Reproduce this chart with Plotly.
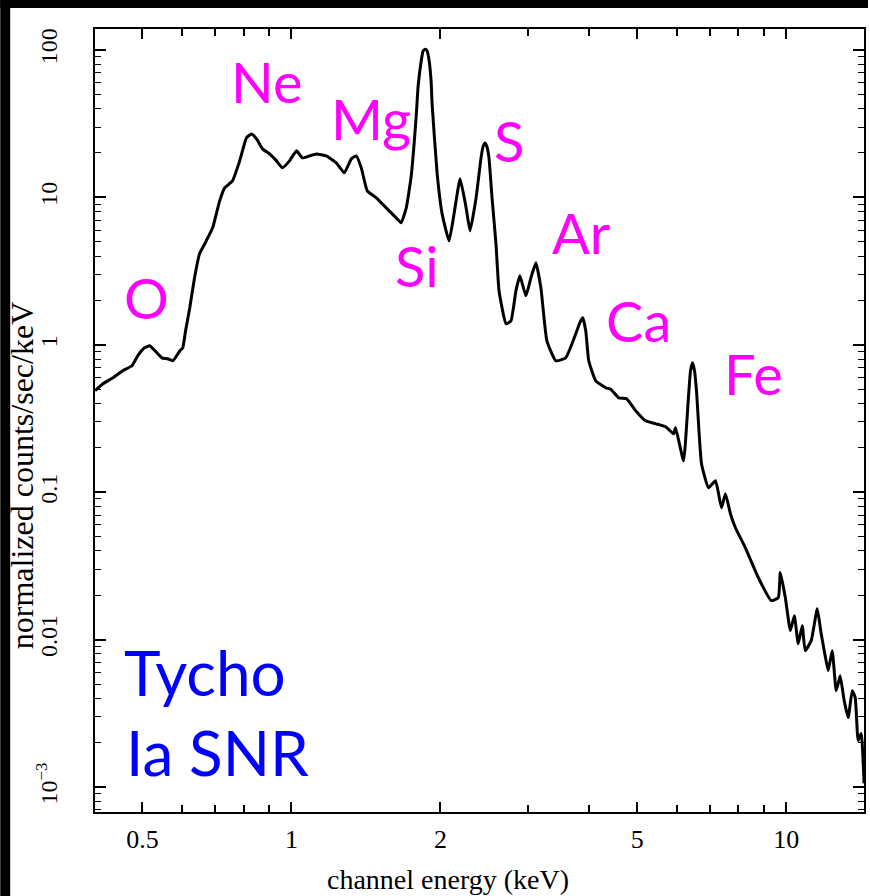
import plotly.graph_objects as go

# ---- data (Tycho SNR) ----
energy_kev = [0.401, 0.416, 0.436, 0.456, 0.476, 0.489, 0.505, 0.517, 0.530, 0.547,
              0.562, 0.576, 0.595, 0.603, 0.611, 0.623, 0.637, 0.652, 0.668, 0.693,
              0.716, 0.733, 0.760, 0.786, 0.811, 0.831, 0.850, 0.874, 0.903, 0.933,
              0.959, 0.991, 1.024, 1.052, 1.087, 1.123, 1.176, 1.232, 1.279, 1.321,
              1.352, 1.384, 1.423, 1.484, 1.554, 1.628, 1.666, 1.706, 1.746, 1.787,
              1.803, 1.829, 1.845, 1.863, 1.880, 1.898, 1.915, 1.924, 1.970, 2.016,
              2.082, 2.131, 2.192, 2.254, 2.296, 2.361, 2.416, 2.438, 2.461, 2.484,
              2.507, 2.543, 2.590, 2.627, 2.714, 2.777, 2.842, 2.895, 2.977, 3.047,
              3.119, 3.192, 3.282, 3.422, 3.584, 3.755, 3.825, 3.879, 3.933, 3.988,
              4.120, 4.316, 4.418, 4.584, 4.758, 4.962, 5.196, 5.445, 5.702, 5.918,
              5.973, 6.199, 6.345, 6.404, 6.464, 6.524, 6.584, 6.739, 6.962, 7.193,
              7.396, 7.534, 7.711, 7.892, 8.266, 8.780, 9.327, 9.636, 9.725, 9.954,
              10.19, 10.38, 10.57, 10.77, 10.92, 11.23, 11.55, 11.76, 11.98, 12.15,
              12.38, 12.61, 12.73, 12.85, 13.09, 13.34, 13.59, 13.78, 13.97, 14.17,
              14.36]
counts = [0.488, 0.544, 0.597, 0.667, 0.721, 0.842, 0.954, 0.985, 0.911, 0.816,
          0.804, 0.779, 0.911, 0.954, 1.244, 1.782, 2.846, 4.140, 4.838, 6.213,
          9.47, 11.60, 12.94, 17.68, 25.32, 26.95, 24.93, 21.32, 19.72, 17.68,
          15.85, 17.68, 20.67, 18.53, 19.11, 19.72, 19.11, 17.13, 14.66, 18.24,
          19.11, 15.85, 11.07, 9.92, 8.49, 7.26, 6.72, 8.49, 13.99, 35.69,
          57.0, 84.22, 98.4, 101.0, 98.4, 84.22, 61.6, 43.04, 14.43, 7.73,
          5.07, 7.73, 13.35, 8.49, 5.93, 9.92, 18.53, 22.0, 23.42, 22.0,
          18.53, 9.92, 4.84, 2.323, 1.388, 1.454, 2.323, 2.937, 2.149, 2.846,
          3.597, 2.434, 1.064, 0.779, 0.816, 1.187, 1.41, 1.524, 1.244, 0.779,
          0.570, 0.511, 0.500, 0.437, 0.430, 0.357, 0.305, 0.291, 0.278, 0.249,
          0.274, 0.1635, 0.451, 0.667, 0.755, 0.667, 0.488, 0.156, 0.1073, 0.1197,
          0.0785, 0.0977, 0.0715, 0.0574, 0.0420, 0.0263, 0.0184, 0.0193, 0.0285, 0.0193,
          0.0115, 0.01455, 0.00939, 0.01244, 0.00842, 0.00985, 0.0162, 0.0110, 0.00779, 0.00616,
          0.00842, 0.00451, 0.00503, 0.00570, 0.00386, 0.00296, 0.00451, 0.00404, 0.00207, 0.00231,
          0.00106]

x_tick_vals = [0.5, 1, 2, 5, 10]
x_tick_text = ["0.5", "1", "2", "5", "10"]
y_tick_vals = [1e-3, 0.01, 0.1, 1, 10, 100]
y_tick_text = ["10<sup>\u22123</sup>", "0.01", "0.1", "1", "10", "100"]

element_labels = ["O", "Ne", "Mg", "Si", "S", "Ar", "Ca", "Fe"]
object_labels = ["Tycho", "Ia SNR"]

# ---- layout geometry (pixels) ----
W, H = 870, 896
L, R, T, B = 95, 866, 29, 812


def px(xp):
    return (xp - L) / (R - L)


def py(yp):
    return (B - yp) / (B - T)


serif = "Liberation Serif"

fig = go.Figure()
fig.add_trace(go.Scatter(x=energy_kev, y=counts, mode="lines",
                         line=dict(color="black", width=3, shape="spline", smoothing=0.4),
                         showlegend=False, hoverinfo="skip"))

fig.update_layout(
    width=W, height=H,
    margin=dict(l=L, r=W - R, t=T, b=H - B),
    paper_bgcolor="white", plot_bgcolor="white",
    showlegend=False,
)

fig.update_xaxes(
    type="log", range=[-0.397, 1.157],
    tickvals=x_tick_vals, ticktext=x_tick_text,
    ticks="inside", ticklen=10, tickwidth=1.5, tickcolor="black",
    minor=dict(ticks="inside", ticklen=7, tickwidth=1.5, tickcolor="black", dtick="D1", showgrid=False),
    showline=True, linecolor="black", linewidth=2, mirror="allticks",
    showgrid=False, zeroline=False,
    tickfont=dict(family=serif, size=26, color="black"),
    ticklabelstandoff=3,
)
fig.update_yaxes(
    type="log", range=[-3.169, 2.142],
    tickvals=y_tick_vals, ticktext=y_tick_text, tickangle=-90,
    ticks="inside", ticklen=11, tickwidth=1.5, tickcolor="black",
    minor=dict(ticks="inside", ticklen=6, tickwidth=1.2, tickcolor="black", dtick="D1", showgrid=False),
    showline=True, linecolor="black", linewidth=2, mirror="allticks",
    showgrid=False, zeroline=False,
    tickfont=dict(family=serif, size=24, color="black"),
    ticklabelstandoff=26,
)

ann = []
# axis titles
ann.append(dict(text="channel energy (keV)", x=px(449), y=py(880), xref="paper", yref="paper",
                showarrow=False, xanchor="center", yanchor="middle",
                font=dict(family=serif, size=28, color="black")))
ann.append(dict(text="normalized counts/sec/keV", x=px(22), y=py(476), xref="paper", yref="paper",
                showarrow=False, xanchor="center", yanchor="middle", textangle=-90,
                font=dict(family=serif, size=32, color="black")))

# element labels (magenta)
elem_pos = [(147, 297), (267, 82), (372, 118), (418, 265), (510, 140), (582, 233), (640, 320), (755, 373)]
for lab, (ex, ey) in zip(element_labels, elem_pos):
    ann.append(dict(text=lab, x=px(ex), y=py(ey), xref="paper", yref="paper",
                    showarrow=False, xanchor="center", yanchor="middle",
                    font=dict(family="Lato", size=56, color="#FF00FF")))

# object labels (blue)
obj_pos = [(122, 672), (124, 752)]
for lab, (ox, oy) in zip(object_labels, obj_pos):
    ann.append(dict(text=lab, x=px(ox), y=py(oy), xref="paper", yref="paper",
                    showarrow=False, xanchor="left", yanchor="middle",
                    font=dict(family="Lato", size=62, color="#0000FF")))

fig.update_layout(annotations=ann)

# black frame bands (top and left edges of the picture)
fig.add_shape(type="rect", xref="paper", yref="paper",
              x0=px(0), x1=px(W), y0=py(8), y1=py(0),
              fillcolor="black", line=dict(width=0), layer="above")
fig.add_shape(type="rect", xref="paper", yref="paper",
              x0=px(0), x1=px(10), y0=py(H), y1=py(0),
              fillcolor="black", line=dict(width=0), layer="above")

fig.write_html("out.html")
